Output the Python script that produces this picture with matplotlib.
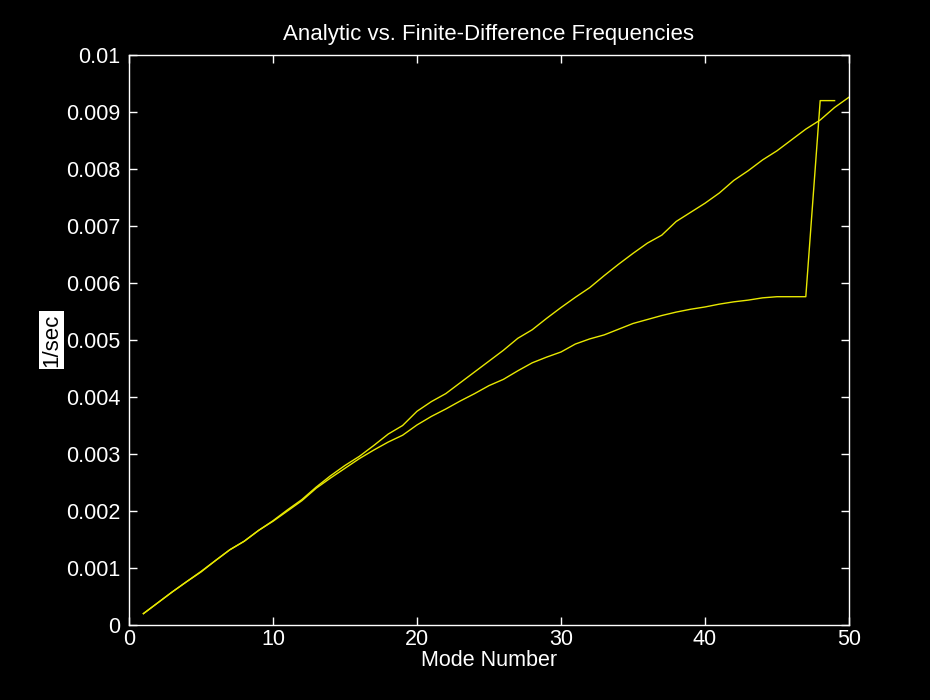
import numpy as np
import matplotlib
matplotlib.use("Agg")
import matplotlib.pyplot as plt

plt.rcParams['font.family'] = ['Liberation Sans', 'DejaVu Sans']

# Mode numbers
modes_exact = np.arange(1, 51)
modes_fd = np.arange(1, 50)

# Analytic frequencies (1/sec)
freq_exact = np.array([
    0.20, 0.39, 0.58, 0.76, 0.94, 1.13, 1.32, 1.47, 1.66, 1.83,
    2.02, 2.20, 2.42, 2.62, 2.80, 2.96, 3.15, 3.35, 3.50, 3.75,
    3.92, 4.06, 4.25, 4.44, 4.63, 4.82, 5.03, 5.18, 5.38, 5.57,
    5.75, 5.92, 6.13, 6.33, 6.52, 6.70, 6.84, 7.08, 7.24, 7.40,
    7.58, 7.80, 7.97, 8.16, 8.32, 8.51, 8.70, 8.86, 9.08, 9.26]) * 1e-3

# Finite-difference frequencies (1/sec)
freq_fd = np.array([
    0.20, 0.39, 0.58, 0.76, 0.93, 1.13, 1.32, 1.47, 1.66, 1.82,
    2.00, 2.18, 2.40, 2.58, 2.75, 2.92, 3.07, 3.21, 3.33, 3.51,
    3.66, 3.79, 3.93, 4.06, 4.20, 4.31, 4.46, 4.60, 4.70, 4.79,
    4.93, 5.02, 5.09, 5.19, 5.29, 5.36, 5.43, 5.49, 5.54, 5.58,
    5.63, 5.67, 5.70, 5.74, 5.76, 5.76, 5.76, 9.20, 9.20]) * 1e-3

fig = plt.figure(figsize=(9.3, 7.0), dpi=100, facecolor='black')
ax = fig.add_axes([0.1387, 0.1071, 0.7742, 0.8143], facecolor='black')

ax.plot(modes_exact, freq_exact, color='#e8e800', lw=1.0)
ax.plot(modes_fd, freq_fd, color='#e8e800', lw=1.0)

ax.set_xlim(0, 50)
ax.set_ylim(0, 0.01)
ax.set_xticks([0, 10, 20, 30, 40, 50])
ax.set_yticks(np.arange(0, 0.0101, 0.001))
ax.set_yticklabels(['0', '0.001', '0.002', '0.003', '0.004', '0.005',
                    '0.006', '0.007', '0.008', '0.009', '0.01'])

for s in ax.spines.values():
    s.set_color('white')
    s.set_linewidth(1.0)
ax.tick_params(direction='in', length=6, width=1.0, colors='white',
               top=True, right=True, labelsize=15.5)
ax.tick_params(axis='x', pad=3)
ax.tick_params(axis='y', pad=6)

ax.set_title('Analytic vs. Finite-Difference Frequencies', color='white',
             fontsize=16, pad=11)
ax.set_xlabel('Mode Number', color='white', fontsize=15.5, labelpad=0)
ax.set_ylabel('1/sec', color='black', fontsize=16, labelpad=3,
              bbox=dict(facecolor='white', edgecolor='none', pad=1.5))

fig.savefig('out.png', dpi=100, facecolor='black')
